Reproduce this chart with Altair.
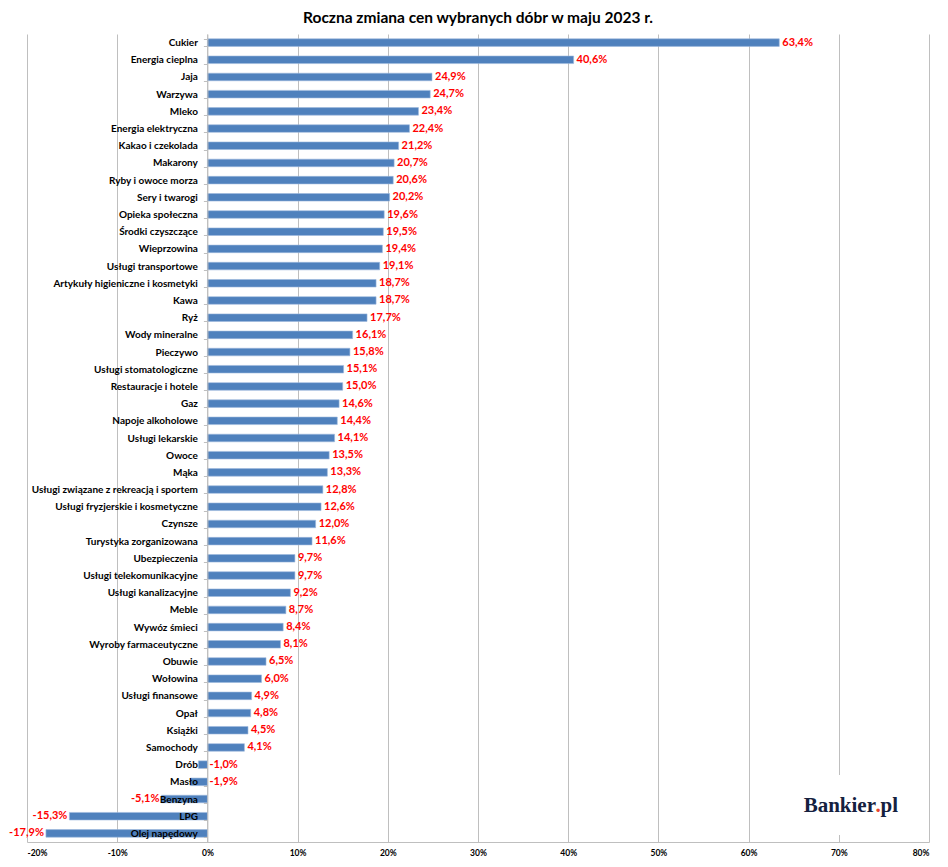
import altair as alt
import pandas as pd

categories = [
    "Cukier", "Energia cieplna", "Jaja", "Warzywa", "Mleko", "Energia elektryczna",
    "Kakao i czekolada", "Makarony", "Ryby i owoce morza", "Sery i twarogi",
    "Opieka społeczna", "Środki czyszczące", "Wieprzowina", "Usługi transportowe",
    "Artykuły higieniczne i kosmetyki", "Kawa", "Ryż", "Wody mineralne", "Pieczywo",
    "Usługi stomatologiczne", "Restauracje i hotele", "Gaz", "Napoje alkoholowe",
    "Usługi lekarskie", "Owoce", "Mąka", "Usługi związane z rekreacją i sportem",
    "Usługi fryzjerskie i kosmetyczne", "Czynsze", "Turystyka zorganizowana",
    "Ubezpieczenia", "Usługi telekomunikacyjne", "Usługi kanalizacyjne", "Meble",
    "Wywóz śmieci", "Wyroby farmaceutyczne", "Obuwie", "Wołowina", "Usługi finansowe",
    "Opał", "Książki", "Samochody", "Drób", "Masło", "Benzyna", "LPG", "Olej napędowy",
]
values = [
    63.4, 40.6, 24.9, 24.7, 23.4, 22.4, 21.2, 20.7, 20.6, 20.2,
    19.6, 19.5, 19.4, 19.1, 18.7, 18.7, 17.7, 16.1, 15.8, 15.1,
    15.0, 14.6, 14.4, 14.1, 13.5, 13.3, 12.8, 12.6, 12.0, 11.6,
    9.7, 9.7, 9.2, 8.7, 8.4, 8.1, 6.5, 6.0, 4.9, 4.8, 4.5, 4.1,
    -1.0, -1.9, -5.1, -15.3, -17.9,
]
x_ticks = [-20, -10, 0, 10, 20, 30, 40, 50, 60, 70, 80]
title_text = "Roczna zmiana cen wybranych dóbr w maju 2023 r."

df = pd.DataFrame({"kat": categories, "v": values})

FONT = "Lato, sans-serif"
W, H = 902, 808
ZERO_X = W * 0.2

xscale = alt.Scale(domain=[-20, 80], nice=False, zero=False)
yscale = alt.Scale(paddingInner=0.56, paddingOuter=0.28)
Y = alt.Y("kat:N", sort=None, scale=yscale)

base = alt.Chart(df)

bars = base.mark_bar(color="#4F81BD", stroke="#9DB9DE", strokeWidth=0.6).encode(
    x=alt.X("v:Q", scale=xscale,
            axis=alt.Axis(values=x_ticks, labelExpr="datum.value + '%'", title=None,
                          grid=True, gridColor="#BFBFBF", domainColor="#BFBFBF",
                          ticks=False, labelPadding=6, labelFontSize=8.5,
                          labelFontWeight="bold", labelFont=FONT, labelColor="#000000")),
    y=alt.Y("kat:N", sort=None, scale=yscale,
            axis=alt.Axis(title=None, offset=-ZERO_X, tickBand="extent",
                          tickSize=4, tickColor="#BFBFBF", domainColor="#BFBFBF",
                          labelPadding=6, labelFontSize=10, labelFontWeight="bold",
                          labelFont=FONT, labelColor="#000000", labelLimit=400,
                          zindex=1, grid=False)),
)

lab_expr = "replace(replace(format(datum.v, '.1f'), '.', ','), '\u2212', '-') + '%'"
lab_style = dict(baseline="middle", color="#FF0000", fontWeight="bold", fontSize=11, font=FONT)

pos_labels = base.transform_filter("datum.v >= 0").transform_calculate(lab=lab_expr).mark_text(
    align="left", dx=3, **lab_style
).encode(x=alt.X("v:Q", scale=xscale), y=Y, text="lab:N")

small_neg_labels = base.transform_filter("datum.v < 0 && datum.v > -3").transform_calculate(
    lab=lab_expr).mark_text(align="left", dx=2, **lab_style
).encode(x=alt.datum(0, scale=xscale), y=Y, text="lab:N")

neg_labels = base.transform_filter("datum.v <= -3").transform_calculate(lab=lab_expr).mark_text(
    align="right", dx=-2, **lab_style
).encode(x=alt.X("v:Q", scale=xscale), y=Y, text="lab:N")

one = alt.Chart(pd.DataFrame({"a": [1]}))
LOGO_FONT = "Liberation Serif, DejaVu Serif, serif"
logo_bg = one.mark_rect(color="white").encode(
    x=alt.value(763), x2=alt.value(878), y=alt.value(741), y2=alt.value(801))
logo1 = one.mark_text(align="right", baseline="alphabetic", font=LOGO_FONT,
                      fontWeight="bold", fontSize=21, color="#15213F").encode(
    x=alt.value(849), y=alt.value(778), text=alt.value("Bankier"))
logo2 = one.mark_text(align="center", baseline="alphabetic", font=LOGO_FONT,
                      fontWeight="bold", fontSize=21, color="#E8442B").encode(
    x=alt.value(851), y=alt.value(778), text=alt.value("."))
logo3 = one.mark_text(align="left", baseline="alphabetic", font=LOGO_FONT,
                      fontWeight="bold", fontSize=21, color="#15213F").encode(
    x=alt.value(853.5), y=alt.value(778), text=alt.value("pl"))

chart = alt.layer(bars, pos_labels, small_neg_labels, neg_labels,
                  logo_bg, logo1, logo2, logo3).properties(
    width=W, height=H,
    autosize=alt.AutoSizeParams(type="none"),
    padding={"left": 19, "top": 26, "right": 11, "bottom": 17},
    title=alt.TitleParams(title_text, fontSize=15.5, fontWeight="bold", font=FONT,
                          color="#000000", anchor="middle", offset=3),
).configure_view(stroke=None)

chart.save("out.html", embed_options={"renderer": "svg", "actions": False})
